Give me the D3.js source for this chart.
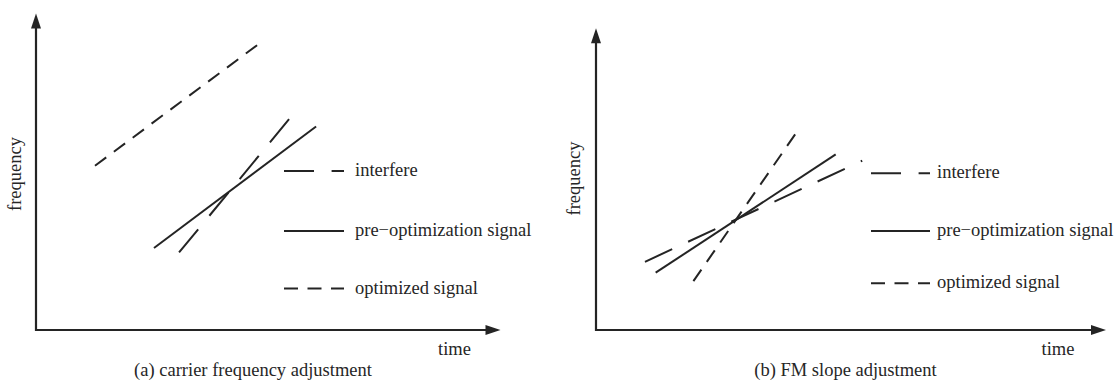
<!DOCTYPE html>
<html>
<head>
<meta charset="utf-8">
<script src="https://cdn.jsdelivr.net/npm/d3@7"></script>
<style>
  html, body { margin: 0; padding: 0; background: #fff; }
  svg { display: block; }
  text { font-family: "Liberation Serif", "Tinos", "Times New Roman", serif; fill: #262626; }
</style>
</head>
<body>
<svg id="chart" width="1118" height="381"></svg>
<script>
// Schematic chirp lines, in axis units (0..100 along each axis).
const seriesNames = ["interfere", "pre\u2212optimization signal", "optimized signal"];
const panelCaptions = ["(a) carrier frequency adjustment", "(b) FM slope adjustment"];
const axisLabels = { x: "time", y: "frequency" };

// Panel (a): the optimized signal is shifted up in carrier frequency
const aInterfere = [[30.8, 24.5], [54.7, 67.0]];
const aPre       = [[25.4, 25.9], [60.3, 64.3]];
const aOptimized = [[12.7, 51.9], [47.8, 90.2]];

// Panel (b): the optimized signal gets a steeper FM slope
const bInterfere = [[9.6, 22.6], [52.2, 56.1]];
const bPre       = [[11.7, 19.0], [47.0, 58.2]];
const bOptimized = [[19.1, 16.2], [39.2, 65.2]];

const ink = "#242424";
const fontSize = 18.5;
const styles = [
  { dash: "30,17.6" },   // interfere
  { dash: null },        // pre-optimization
  { dash: "14,9.5" }     // optimized
];

const svg = d3.select("#chart");

const panels = [
  {
    x: d3.scaleLinear().domain([0, 100]).range([36, 500.5]),
    y: d3.scaleLinear().domain([0, 100]).range([330, 13.5]),
    lines: [aInterfere, aPre, aOptimized],
    legend: { x0: 284, x1: 344, tx: 355, ys: [171, 231, 288.5] },
    caption: { x: 253, y: 376 },
    time: { x: 438, y: 355 },
    freq: { x: 21, y: 174 }
  },
  {
    x: d3.scaleLinear().domain([0, 100]).range([596, 1106]),
    y: d3.scaleLinear().domain([0, 100]).range([330, 28.3]),
    lines: [bInterfere, bPre, bOptimized],
    legend: { x0: 871, x1: 930, tx: 937, ys: [173.3, 231, 283.3] },
    caption: { x: 845.5, y: 376 },
    time: { x: 1041.5, y: 355 },
    freq: { x: 580, y: 178.5 }
  }
];

const headLen = 15, headHalf = 5;

panels.forEach((p, i) => {
  const g = svg.append("g");
  const [x0, x1] = p.x.range();
  const [y0, y1] = p.y.range();

  // axes with arrowheads
  g.append("line")
    .attr("x1", x0).attr("y1", y0).attr("x2", x1 - headLen + 1).attr("y2", y0)
    .attr("stroke", ink).attr("stroke-width", 2.2);
  g.append("path")
    .attr("d", `M${x1},${y0} L${x1 - headLen},${y0 - headHalf} L${x1 - headLen},${y0 + headHalf} Z`)
    .attr("fill", ink);
  g.append("line")
    .attr("x1", x0).attr("y1", y0 + 1.1).attr("x2", x0).attr("y2", y1 + headLen - 1)
    .attr("stroke", ink).attr("stroke-width", 2.2);
  g.append("path")
    .attr("d", `M${x0},${y1} L${x0 - headHalf},${y1 + headLen} L${x0 + headHalf},${y1 + headLen} Z`)
    .attr("fill", ink);

  // signal lines
  const lineGen = d3.line().x(d => p.x(d[0])).y(d => p.y(d[1]));
  p.lines.forEach((pts, k) => {
    g.append("path")
      .attr("d", lineGen(pts))
      .attr("fill", "none")
      .attr("stroke", ink)
      .attr("stroke-width", 2)
      .attr("stroke-dasharray", styles[k].dash);
  });

  // legend
  seriesNames.forEach((name, k) => {
    const ly = p.legend.ys[k];
    g.append("line")
      .attr("x1", p.legend.x0).attr("x2", p.legend.x1)
      .attr("y1", ly).attr("y2", ly)
      .attr("stroke", ink).attr("stroke-width", 2)
      .attr("stroke-dasharray", styles[k].dash);
    g.append("text")
      .attr("x", p.legend.tx).attr("y", ly + 5)
      .attr("font-size", fontSize)
      .text(name);
  });

  // axis titles
  g.append("text")
    .attr("x", p.time.x).attr("y", p.time.y)
    .attr("font-size", fontSize)
    .text(axisLabels.x);
  g.append("text")
    .attr("transform", `translate(${p.freq.x},${p.freq.y}) rotate(-90)`)
    .attr("text-anchor", "middle")
    .attr("font-size", fontSize)
    .text(axisLabels.y);

  // caption
  g.append("text")
    .attr("x", p.caption.x).attr("y", p.caption.y)
    .attr("text-anchor", "middle")
    .attr("font-size", fontSize)
    .text(panelCaptions[i]);
});
</script>
</body>
</html>
